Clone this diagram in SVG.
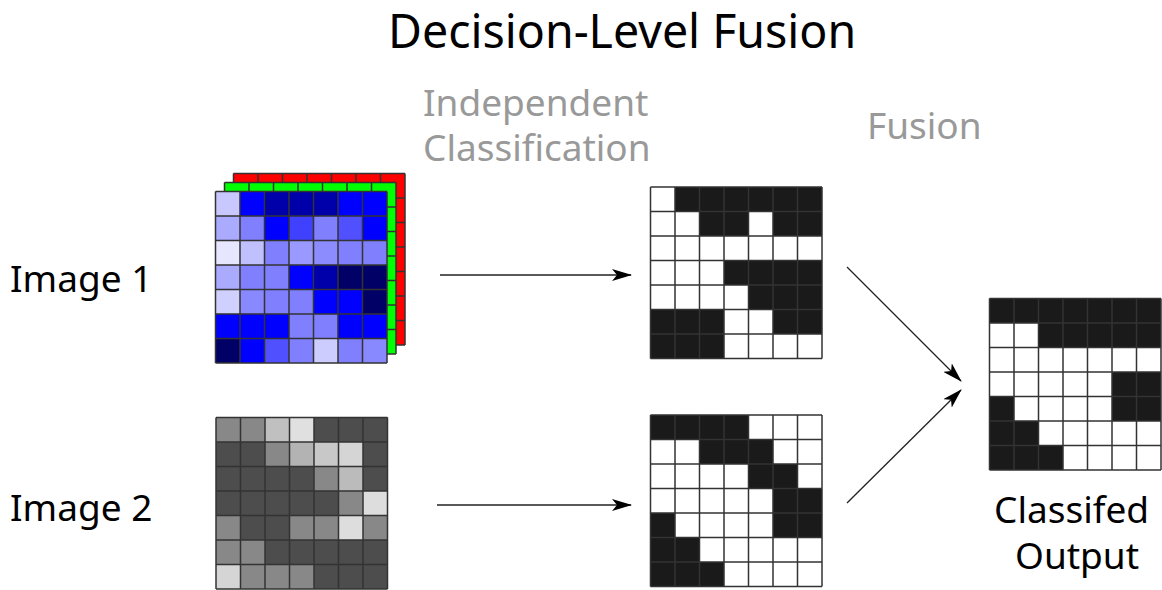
<svg xmlns="http://www.w3.org/2000/svg" xmlns:xlink="http://www.w3.org/1999/xlink" width="1162" height="590" viewBox="0 0 1162 590">
  <style>
    .title { font-family: "Noto Sans", "Open Sans", sans-serif; font-size: 46.5px; fill: #000; }
    .label { font-family: "Noto Sans", "Open Sans", sans-serif; font-size: 37px; fill: #000; }
    .stage { font-family: "Noto Sans", "Open Sans", sans-serif; font-size: 37px; fill: #999; }
    .grid { fill: none; stroke: #333; stroke-width: 1.5; }
    .k { fill: #1a1a1a; }
    .conn { fill: none; stroke: #222; stroke-width: 1.3; marker-end: url(#head); }
  </style>
  <defs>
    <!-- 7x7 cell lines, 24.5px cells -->
    <path id="gridlines" class="grid" d="M0 0V171.5M24.5 0V171.5M49 0V171.5M73.5 0V171.5M98 0V171.5M122.5 0V171.5M147 0V171.5M171.5 0V171.5M0 0H171.5M0 24.5H171.5M0 49H171.5M0 73.5H171.5M0 98H171.5M0 122.5H171.5M0 147H171.5M0 171.5H171.5"/>
    <marker id="head" viewBox="0 0 20 12" refX="19" refY="6" markerWidth="20" markerHeight="12" markerUnits="userSpaceOnUse" orient="auto">
      <path d="M0 0L20 6L0 12L5 6Z" fill="#000"/>
    </marker>
  </defs>

  <rect width="1162" height="590" fill="#fff"/>

  <text class="title" x="388" y="48">Decision-Level Fusion</text>
  <text class="stage" x="423" y="116">Independent</text>
  <text class="stage" x="423" y="161">Classification</text>
  <text class="stage" x="867" y="139">Fusion</text>

  <g id="label-image1"><text class="label" x="10" y="292">Image 1</text></g>
  <g id="label-image2"><text class="label" x="10" y="521">Image 2</text></g>

  <!-- RGB input: red and green bands behind the blue band -->
  <g id="image1">
    <g transform="translate(233.5,173.5)">
      <rect width="171.5" height="171.5" fill="#ff0000"/>
      <use xlink:href="#gridlines"/>
    </g>
    <g transform="translate(224.5,182.5)">
      <rect width="171.5" height="171.5" fill="#00ff00"/>
      <use xlink:href="#gridlines"/>
    </g>
    <g transform="translate(215.5,191.5)">
      <rect x="0" y="0" width="24.5" height="24.5" fill="#c8c8ff"/>
      <rect x="24.5" y="0" width="24.5" height="24.5" fill="#0000ff"/>
      <rect x="49" y="0" width="24.5" height="24.5" fill="#0000aa"/>
      <rect x="73.5" y="0" width="24.5" height="24.5" fill="#0000aa"/>
      <rect x="98" y="0" width="24.5" height="24.5" fill="#0000aa"/>
      <rect x="122.5" y="0" width="24.5" height="24.5" fill="#0000ff"/>
      <rect x="147" y="0" width="24.5" height="24.5" fill="#0000ff"/>

      <rect x="0" y="24.5" width="24.5" height="24.5" fill="#aaaaff"/>
      <rect x="24.5" y="24.5" width="24.5" height="24.5" fill="#8080ff"/>
      <rect x="49" y="24.5" width="24.5" height="24.5" fill="#0000ff"/>
      <rect x="73.5" y="24.5" width="24.5" height="24.5" fill="#4040ff"/>
      <rect x="98" y="24.5" width="24.5" height="24.5" fill="#8080ff"/>
      <rect x="122.5" y="24.5" width="24.5" height="24.5" fill="#5050ff"/>
      <rect x="147" y="24.5" width="24.5" height="24.5" fill="#0000ff"/>

      <rect x="0" y="49" width="24.5" height="24.5" fill="#e6e6ff"/>
      <rect x="24.5" y="49" width="24.5" height="24.5" fill="#c0c0ff"/>
      <rect x="49" y="49" width="24.5" height="24.5" fill="#8080ff"/>
      <rect x="73.5" y="49" width="24.5" height="24.5" fill="#9999ff"/>
      <rect x="98" y="49" width="24.5" height="24.5" fill="#8c8cff"/>
      <rect x="122.5" y="49" width="24.5" height="24.5" fill="#8080ff"/>
      <rect x="147" y="49" width="24.5" height="24.5" fill="#8080ff"/>

      <rect x="0" y="73.5" width="24.5" height="24.5" fill="#aaaaff"/>
      <rect x="24.5" y="73.5" width="24.5" height="24.5" fill="#8080ff"/>
      <rect x="49" y="73.5" width="24.5" height="24.5" fill="#8080ff"/>
      <rect x="73.5" y="73.5" width="24.5" height="24.5" fill="#0000ff"/>
      <rect x="98" y="73.5" width="24.5" height="24.5" fill="#0000aa"/>
      <rect x="122.5" y="73.5" width="24.5" height="24.5" fill="#000066"/>
      <rect x="147" y="73.5" width="24.5" height="24.5" fill="#000066"/>

      <rect x="0" y="98" width="24.5" height="24.5" fill="#d0d0ff"/>
      <rect x="24.5" y="98" width="24.5" height="24.5" fill="#8888ff"/>
      <rect x="49" y="98" width="24.5" height="24.5" fill="#8080ff"/>
      <rect x="73.5" y="98" width="24.5" height="24.5" fill="#8080ff"/>
      <rect x="98" y="98" width="24.5" height="24.5" fill="#0000ff"/>
      <rect x="122.5" y="98" width="24.5" height="24.5" fill="#0000ff"/>
      <rect x="147" y="98" width="24.5" height="24.5" fill="#000066"/>

      <rect x="0" y="122.5" width="24.5" height="24.5" fill="#0000ff"/>
      <rect x="24.5" y="122.5" width="24.5" height="24.5" fill="#0000ff"/>
      <rect x="49" y="122.5" width="24.5" height="24.5" fill="#0000ff"/>
      <rect x="73.5" y="122.5" width="24.5" height="24.5" fill="#8080ff"/>
      <rect x="98" y="122.5" width="24.5" height="24.5" fill="#8080ff"/>
      <rect x="122.5" y="122.5" width="24.5" height="24.5" fill="#0000ff"/>
      <rect x="147" y="122.5" width="24.5" height="24.5" fill="#0000ff"/>

      <rect x="0" y="147" width="24.5" height="24.5" fill="#000066"/>
      <rect x="24.5" y="147" width="24.5" height="24.5" fill="#0000ff"/>
      <rect x="49" y="147" width="24.5" height="24.5" fill="#5050ff"/>
      <rect x="73.5" y="147" width="24.5" height="24.5" fill="#8080ff"/>
      <rect x="98" y="147" width="24.5" height="24.5" fill="#ccccff"/>
      <rect x="122.5" y="147" width="24.5" height="24.5" fill="#8080ff"/>
      <rect x="147" y="147" width="24.5" height="24.5" fill="#8888ff"/>
      <use xlink:href="#gridlines"/>
    </g>
  </g>

  <!-- greyscale input -->
  <g id="image2" transform="translate(216,417.5)">
    <rect x="0" y="0" width="24.5" height="24.5" fill="#888"/>
    <rect x="24.5" y="0" width="24.5" height="24.5" fill="#888"/>
    <rect x="49" y="0" width="24.5" height="24.5" fill="#c0c0c0"/>
    <rect x="73.5" y="0" width="24.5" height="24.5" fill="#e0e0e0"/>
    <rect x="98" y="0" width="73.5" height="24.5" fill="#4d4d4d"/>

    <rect x="0" y="24.5" width="49" height="24.5" fill="#4d4d4d"/>
    <rect x="49" y="24.5" width="24.5" height="24.5" fill="#888"/>
    <rect x="73.5" y="24.5" width="24.5" height="24.5" fill="#b3b3b3"/>
    <rect x="98" y="24.5" width="24.5" height="24.5" fill="#c8c8c8"/>
    <rect x="122.5" y="24.5" width="24.5" height="24.5" fill="#d5d5d5"/>
    <rect x="147" y="24.5" width="24.5" height="24.5" fill="#4d4d4d"/>

    <rect x="0" y="49" width="98" height="24.5" fill="#4d4d4d"/>
    <rect x="98" y="49" width="24.5" height="24.5" fill="#888"/>
    <rect x="122.5" y="49" width="24.5" height="24.5" fill="#bbb"/>
    <rect x="147" y="49" width="24.5" height="24.5" fill="#4d4d4d"/>

    <rect x="0" y="73.5" width="122.5" height="24.5" fill="#4d4d4d"/>
    <rect x="122.5" y="73.5" width="24.5" height="24.5" fill="#888"/>
    <rect x="147" y="73.5" width="24.5" height="24.5" fill="#ddd"/>

    <rect x="0" y="98" width="24.5" height="24.5" fill="#888"/>
    <rect x="24.5" y="98" width="49" height="24.5" fill="#4d4d4d"/>
    <rect x="73.5" y="98" width="49" height="24.5" fill="#888"/>
    <rect x="122.5" y="98" width="24.5" height="24.5" fill="#ddd"/>
    <rect x="147" y="98" width="24.5" height="24.5" fill="#888"/>

    <rect x="0" y="122.5" width="49" height="24.5" fill="#888"/>
    <rect x="49" y="122.5" width="122.5" height="24.5" fill="#4d4d4d"/>

    <rect x="0" y="147" width="24.5" height="24.5" fill="#d5d5d5"/>
    <rect x="24.5" y="147" width="73.5" height="24.5" fill="#888"/>
    <rect x="98" y="147" width="73.5" height="24.5" fill="#4d4d4d"/>
    <use xlink:href="#gridlines"/>
  </g>

  <!-- per-image class maps -->
  <g id="class1" transform="translate(650.5,187)">
    <rect width="171.5" height="171.5" fill="#fff"/>
    <rect class="k" x="24.5" y="0" width="147" height="24.5"/>
    <rect class="k" x="49" y="24.5" width="49" height="24.5"/>
    <rect class="k" x="122.5" y="24.5" width="49" height="24.5"/>
    <rect class="k" x="73.5" y="73.5" width="98" height="24.5"/>
    <rect class="k" x="98" y="98" width="73.5" height="24.5"/>
    <rect class="k" x="0" y="122.5" width="73.5" height="24.5"/>
    <rect class="k" x="122.5" y="122.5" width="49" height="24.5"/>
    <rect class="k" x="0" y="147" width="73.5" height="24.5"/>
    <use xlink:href="#gridlines"/>
  </g>

  <g id="class2" transform="translate(650.5,415)">
    <rect width="171.5" height="171.5" fill="#fff"/>
    <rect class="k" x="0" y="0" width="98" height="24.5"/>
    <rect class="k" x="49" y="24.5" width="73.5" height="24.5"/>
    <rect class="k" x="98" y="49" width="49" height="24.5"/>
    <rect class="k" x="122.5" y="73.5" width="49" height="24.5"/>
    <rect class="k" x="0" y="98" width="24.5" height="24.5"/>
    <rect class="k" x="122.5" y="98" width="49" height="24.5"/>
    <rect class="k" x="0" y="122.5" width="49" height="24.5"/>
    <rect class="k" x="0" y="147" width="73.5" height="24.5"/>
    <use xlink:href="#gridlines"/>
  </g>

  <!-- fused result -->
  <g id="output" transform="translate(989.5,298.5)">
    <rect width="171.5" height="171.5" fill="#fff"/>
    <rect class="k" x="0" y="0" width="171.5" height="24.5"/>
    <rect class="k" x="49" y="24.5" width="122.5" height="24.5"/>
    <rect class="k" x="122.5" y="73.5" width="49" height="24.5"/>
    <rect class="k" x="0" y="98" width="24.5" height="24.5"/>
    <rect class="k" x="122.5" y="98" width="49" height="24.5"/>
    <rect class="k" x="0" y="122.5" width="49" height="24.5"/>
    <rect class="k" x="0" y="147" width="73.5" height="24.5"/>
    <use xlink:href="#gridlines"/>
  </g>

  <g id="label-output">
    <text class="label" x="994" y="523">Classifed</text>
    <text class="label" x="1015" y="569">Output</text>
  </g>

  <g id="connectors">
    <path class="conn" d="M440 275H631"/>
    <path class="conn" d="M437 505H631"/>
    <path class="conn" d="M847 267L961 381"/>
    <path class="conn" d="M847 503L961 390"/>
  </g>
</svg>
